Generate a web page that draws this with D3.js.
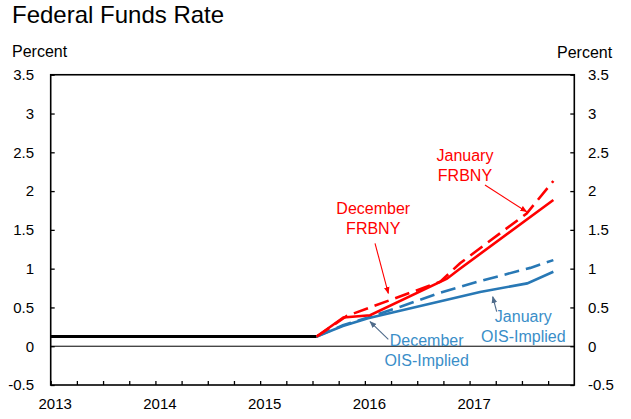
<!DOCTYPE html>
<html>
<head>
<meta charset="utf-8">
<script src="https://cdn.jsdelivr.net/npm/d3@7"></script>
<style>
  body { margin: 0; background: #fff; }
  svg { display: block; font-family: "Liberation Sans", Arial, sans-serif; }
</style>
</head>
<body>
<svg id="chart"></svg>
<script>
// data (x = decimal year, y = percent)
const yearLabels = [2013, 2014, 2015, 2016, 2017]
const yTicks = [-0.5, 0, 0.5, 1, 1.5, 2, 2.5, 3, 3.5]

const actual = [[2013, 0.125], [2015.54, 0.125]]
const janFrbny = [[2015.54, 0.125], [2015.795, 0.37], [2016.05, 0.40], [2016.784, 0.87], [2016.889, 0.98], [2017.80, 1.885]]
const decFrbny = [[2015.54, 0.125], [2015.827, 0.39], [2016.718, 0.83], [2016.909, 1.07], [2017.29, 1.455], [2017.545, 1.71], [2017.80, 2.13]]
const janOis = [[2015.54, 0.125], [2015.79, 0.26], [2016.03, 0.36], [2017.10, 0.70], [2017.55, 0.81], [2017.80, 0.96]]
const decOis = [[2015.54, 0.125], [2015.79, 0.27], [2016.03, 0.37], [2016.34, 0.51], [2016.72, 0.69], [2017.10, 0.84], [2017.58, 1.01], [2017.80, 1.11]]

// labels with arrows: text anchor, arrow start, arrow tip
const notes = [
  { lines: ["January", "FRBNY"], at: [2016.956, 2.39], from: [2017.147, 2.078], to: [2017.545, 1.734], kind: "red" },
  { lines: ["December", "FRBNY"], at: [2016.08, 1.70], from: [2016.097, 1.327], to: [2016.224, 0.682], kind: "red" },
  { lines: ["December", "OIS-Implied"], at: [2016.59, 0.0], from: [2016.224, 0.089], to: [2016.049, 0.318], kind: "blue" },
  { lines: ["January", "OIS-Implied"], at: [2017.513, 0.312], from: [2017.259, 0.445], to: [2017.221, 0.638], kind: "blue" }
]

let width = 631
let height = 419
let plotL = 50.7, plotR = 574.3, plotT = 74.75, plotB = 385

const red = "#ff0000"
const blue = "#2878b5"
const blueText = "#3a8ec8"
const blueArrow = "#4f6b8a"

let svg = d3.select("#chart").attr("width", width).attr("height", height)

let xScale = d3.scaleLinear().domain([2013, 2018]).range([plotL, plotR])
let yScale = d3.scaleLinear().domain([-0.5, 3.5]).range([plotB, plotT])

// title + unit labels
svg.append("text").attr("x", 12).attr("y", 23).style("font-size", "24px").text("Federal Funds Rate")
svg.append("text").attr("x", 12).attr("y", 57).style("font-size", "16px").text("Percent")
svg.append("text").attr("x", 557).attr("y", 58).style("font-size", "16px").text("Percent")

// zero line
svg.append("line")
  .attr("x1", plotL).attr("x2", plotR)
  .attr("y1", yScale(0)).attr("y2", yScale(0))
  .attr("stroke", "#000").attr("stroke-width", 1)

// axes
let fmt = d => String(d)
let quarters = d3.range(2013, 2018, 0.25)

let gl = svg.append("g").attr("transform", "translate(" + plotL + ",0)")
  .call(d3.axisLeft(yScale).tickValues(yTicks).tickFormat(fmt).tickSize(-4).tickSizeOuter(0).tickPadding(16.7))
let gr = svg.append("g").attr("transform", "translate(" + plotR + ",0)")
  .call(d3.axisRight(yScale).tickValues(yTicks).tickFormat(fmt).tickSize(-4).tickSizeOuter(0).tickPadding(13.7))
let gb = svg.append("g").attr("transform", "translate(0," + plotB + ")")
  .call(d3.axisBottom(xScale).tickValues(quarters)
    .tickFormat(d => yearLabels.includes(d) ? String(d) : "")
    .tickSize(-4).tickSizeOuter(0).tickPadding(13))

;[gl, gr, gb].forEach(g => {
  g.select(".domain").remove()
  g.selectAll("line").attr("stroke", "#000").attr("stroke-width", 1.3)
  g.selectAll("text").style("font-size", "15px").attr("fill", "#000").style("font-family", "'Liberation Sans', Arial, sans-serif")
})
gb.selectAll("text").attr("dx", 4)

// frame
svg.append("rect")
  .attr("x", plotL).attr("y", plotT)
  .attr("width", plotR - plotL).attr("height", plotB - plotT)
  .attr("fill", "none").attr("stroke", "#000").attr("stroke-width", 1.6)

// lines
let line = d3.line().x(d => xScale(d[0])).y(d => yScale(d[1]))

let drawLine = (data, color, w, dash) => {
  svg.append("path")
    .datum(data)
    .attr("d", line)
    .attr("fill", "none")
    .attr("stroke", color)
    .attr("stroke-width", w)
    .attr("stroke-dasharray", dash || null)
}

drawLine(actual, "#000", 3)
drawLine(janOis, blue, 2.6)
drawLine(decOis, blue, 2.6, "15,7")
drawLine(janFrbny, red, 2.6)
drawLine(decFrbny, red, 2.6, "15,7")

// arrow heads
let defs = svg.append("defs")
;[["red", red], ["blue", blueArrow]].forEach(([id, c]) => {
  defs.append("marker")
    .attr("id", "head-" + id)
    .attr("viewBox", "0 0 10 10")
    .attr("refX", 9).attr("refY", 5)
    .attr("markerWidth", 7).attr("markerHeight", 7)
    .attr("markerUnits", "userSpaceOnUse")
    .attr("orient", "auto")
    .append("path")
    .attr("d", "M0,1 L10,5 L0,9 Z")
    .attr("fill", c)
})

notes.forEach(n => {
  let isRed = n.kind === "red"
  svg.append("line")
    .attr("x1", xScale(n.from[0])).attr("y1", yScale(n.from[1]))
    .attr("x2", xScale(n.to[0])).attr("y2", yScale(n.to[1]))
    .attr("stroke", isRed ? red : blueArrow)
    .attr("stroke-width", 1.1)
    .attr("marker-end", "url(#head-" + (isRed ? "red" : "blue") + ")")

  let t = svg.append("text")
    .attr("x", xScale(n.at[0])).attr("y", yScale(n.at[1]))
    .attr("text-anchor", "middle")
    .attr("fill", isRed ? red : blueText)
    .style("font-size", "16px")
  n.lines.forEach((s, i) => {
    t.append("tspan").attr("x", xScale(n.at[0])).attr("dy", i === 0 ? 0 : 20).text(s)
  })
})
</script>
</body>
</html>
